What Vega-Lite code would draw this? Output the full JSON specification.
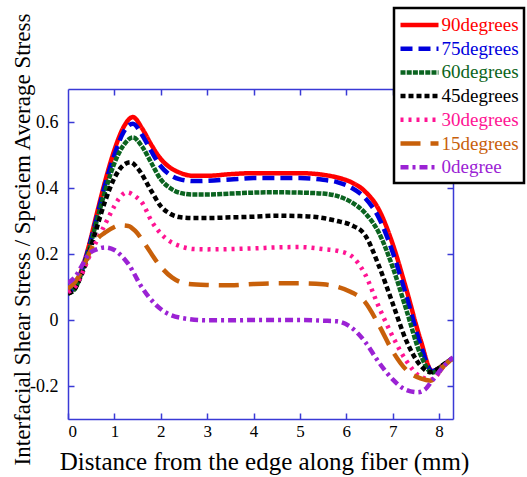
{
  "$schema": "https://vega.github.io/schema/vega-lite/v6.json",
  "width": 385,
  "height": 330,
  "autosize": {"type": "none"},
  "padding": {"left": 68, "top": 89, "right": 74, "bottom": 58},
  "background": "white",
  "config": {
    "view": {"stroke": null},
    "font": "Liberation Serif",
    "style": {"guide-label": {"font": "Liberation Serif"}, "guide-title": {"font": "Liberation Serif"}},
    "axis": {
      "domainColor": "#3a3ad6",
      "domainWidth": 1.5,
      "tickColor": "#3a3ad6",
      "tickWidth": 1.5,
      "tickSize": -6,
      "grid": false,
      "labelFont": "Liberation Serif",
      "labelColor": "black",
      "titleFont": "Liberation Serif",
      "titleColor": "black",
      "titleFontWeight": "normal"
    },
    "legend": {"labelFont": "Liberation Serif"}
  },
  "data": {
    "values": [
      {"s": "90degrees", "x": 0, "y": 0.085}, {"s": "90degrees", "x": 0.15, "y": 0.1}, {"s": "90degrees", "x": 0.3, "y": 0.155}, {"s": "90degrees", "x": 0.45, "y": 0.225}, {"s": "90degrees", "x": 0.6, "y": 0.31}, {"s": "90degrees", "x": 0.8, "y": 0.42}, {"s": "90degrees", "x": 1.0, "y": 0.515}, {"s": "90degrees", "x": 1.2, "y": 0.585}, {"s": "90degrees", "x": 1.4, "y": 0.615}, {"s": "90degrees", "x": 1.6, "y": 0.58}, {"s": "90degrees", "x": 1.8, "y": 0.53}, {"s": "90degrees", "x": 2.0, "y": 0.488}, {"s": "90degrees", "x": 2.2, "y": 0.462}, {"s": "90degrees", "x": 2.4, "y": 0.447}, {"s": "90degrees", "x": 2.7, "y": 0.437}, {"s": "90degrees", "x": 3.0, "y": 0.437}, {"s": "90degrees", "x": 3.5, "y": 0.442}, {"s": "90degrees", "x": 4.0, "y": 0.445}, {"s": "90degrees", "x": 4.5, "y": 0.445}, {"s": "90degrees", "x": 5.0, "y": 0.445}, {"s": "90degrees", "x": 5.5, "y": 0.44}, {"s": "90degrees", "x": 5.8, "y": 0.432}, {"s": "90degrees", "x": 6.1, "y": 0.418}, {"s": "90degrees", "x": 6.4, "y": 0.39}, {"s": "90degrees", "x": 6.7, "y": 0.335}, {"s": "90degrees", "x": 7.0, "y": 0.23}, {"s": "90degrees", "x": 7.3, "y": 0.09}, {"s": "90degrees", "x": 7.6, "y": -0.06}, {"s": "90degrees", "x": 7.85, "y": -0.155}, {"s": "90degrees", "x": 8.1, "y": -0.135}, {"s": "90degrees", "x": 8.3, "y": -0.115},

      {"s": "75degrees", "x": 0, "y": 0.085}, {"s": "75degrees", "x": 0.15, "y": 0.1}, {"s": "75degrees", "x": 0.3, "y": 0.15}, {"s": "75degrees", "x": 0.45, "y": 0.22}, {"s": "75degrees", "x": 0.6, "y": 0.3}, {"s": "75degrees", "x": 0.8, "y": 0.41}, {"s": "75degrees", "x": 1.0, "y": 0.5}, {"s": "75degrees", "x": 1.2, "y": 0.57}, {"s": "75degrees", "x": 1.4, "y": 0.595}, {"s": "75degrees", "x": 1.6, "y": 0.56}, {"s": "75degrees", "x": 1.8, "y": 0.51}, {"s": "75degrees", "x": 2.0, "y": 0.466}, {"s": "75degrees", "x": 2.2, "y": 0.44}, {"s": "75degrees", "x": 2.4, "y": 0.427}, {"s": "75degrees", "x": 2.7, "y": 0.421}, {"s": "75degrees", "x": 3.0, "y": 0.422}, {"s": "75degrees", "x": 3.5, "y": 0.426}, {"s": "75degrees", "x": 4.0, "y": 0.43}, {"s": "75degrees", "x": 4.5, "y": 0.43}, {"s": "75degrees", "x": 5.0, "y": 0.43}, {"s": "75degrees", "x": 5.5, "y": 0.425}, {"s": "75degrees", "x": 5.8, "y": 0.418}, {"s": "75degrees", "x": 6.1, "y": 0.402}, {"s": "75degrees", "x": 6.4, "y": 0.37}, {"s": "75degrees", "x": 6.7, "y": 0.31}, {"s": "75degrees", "x": 7.0, "y": 0.205}, {"s": "75degrees", "x": 7.3, "y": 0.07}, {"s": "75degrees", "x": 7.6, "y": -0.075}, {"s": "75degrees", "x": 7.85, "y": -0.155}, {"s": "75degrees", "x": 8.1, "y": -0.135}, {"s": "75degrees", "x": 8.3, "y": -0.115},

      {"s": "60degrees", "x": 0, "y": 0.08}, {"s": "60degrees", "x": 0.15, "y": 0.095}, {"s": "60degrees", "x": 0.3, "y": 0.145}, {"s": "60degrees", "x": 0.45, "y": 0.21}, {"s": "60degrees", "x": 0.6, "y": 0.29}, {"s": "60degrees", "x": 0.8, "y": 0.39}, {"s": "60degrees", "x": 1.0, "y": 0.475}, {"s": "60degrees", "x": 1.2, "y": 0.53}, {"s": "60degrees", "x": 1.4, "y": 0.553}, {"s": "60degrees", "x": 1.6, "y": 0.525}, {"s": "60degrees", "x": 1.8, "y": 0.475}, {"s": "60degrees", "x": 2.0, "y": 0.426}, {"s": "60degrees", "x": 2.2, "y": 0.4}, {"s": "60degrees", "x": 2.4, "y": 0.386}, {"s": "60degrees", "x": 2.7, "y": 0.38}, {"s": "60degrees", "x": 3.0, "y": 0.38}, {"s": "60degrees", "x": 3.5, "y": 0.383}, {"s": "60degrees", "x": 4.0, "y": 0.386}, {"s": "60degrees", "x": 4.5, "y": 0.387}, {"s": "60degrees", "x": 5.0, "y": 0.386}, {"s": "60degrees", "x": 5.5, "y": 0.383}, {"s": "60degrees", "x": 5.8, "y": 0.376}, {"s": "60degrees", "x": 6.1, "y": 0.358}, {"s": "60degrees", "x": 6.4, "y": 0.325}, {"s": "60degrees", "x": 6.7, "y": 0.265}, {"s": "60degrees", "x": 7.0, "y": 0.16}, {"s": "60degrees", "x": 7.3, "y": 0.028}, {"s": "60degrees", "x": 7.6, "y": -0.105}, {"s": "60degrees", "x": 7.85, "y": -0.16}, {"s": "60degrees", "x": 8.1, "y": -0.135}, {"s": "60degrees", "x": 8.3, "y": -0.115},

      {"s": "45degrees", "x": 0, "y": 0.08}, {"s": "45degrees", "x": 0.15, "y": 0.095}, {"s": "45degrees", "x": 0.3, "y": 0.14}, {"s": "45degrees", "x": 0.45, "y": 0.2}, {"s": "45degrees", "x": 0.6, "y": 0.27}, {"s": "45degrees", "x": 0.8, "y": 0.36}, {"s": "45degrees", "x": 1.0, "y": 0.43}, {"s": "45degrees", "x": 1.2, "y": 0.47}, {"s": "45degrees", "x": 1.35, "y": 0.478}, {"s": "45degrees", "x": 1.5, "y": 0.46}, {"s": "45degrees", "x": 1.8, "y": 0.39}, {"s": "45degrees", "x": 2.0, "y": 0.345}, {"s": "45degrees", "x": 2.2, "y": 0.322}, {"s": "45degrees", "x": 2.4, "y": 0.312}, {"s": "45degrees", "x": 2.7, "y": 0.309}, {"s": "45degrees", "x": 3.0, "y": 0.309}, {"s": "45degrees", "x": 3.5, "y": 0.311}, {"s": "45degrees", "x": 4.0, "y": 0.313}, {"s": "45degrees", "x": 4.5, "y": 0.316}, {"s": "45degrees", "x": 5.0, "y": 0.315}, {"s": "45degrees", "x": 5.5, "y": 0.309}, {"s": "45degrees", "x": 5.8, "y": 0.3}, {"s": "45degrees", "x": 6.1, "y": 0.288}, {"s": "45degrees", "x": 6.4, "y": 0.258}, {"s": "45degrees", "x": 6.7, "y": 0.165}, {"s": "45degrees", "x": 7.0, "y": 0.05}, {"s": "45degrees", "x": 7.3, "y": -0.065}, {"s": "45degrees", "x": 7.6, "y": -0.138}, {"s": "45degrees", "x": 7.8, "y": -0.158}, {"s": "45degrees", "x": 8.1, "y": -0.135}, {"s": "45degrees", "x": 8.3, "y": -0.115},

      {"s": "30degrees", "x": 0, "y": 0.085}, {"s": "30degrees", "x": 0.15, "y": 0.1}, {"s": "30degrees", "x": 0.3, "y": 0.14}, {"s": "30degrees", "x": 0.45, "y": 0.19}, {"s": "30degrees", "x": 0.6, "y": 0.235}, {"s": "30degrees", "x": 0.8, "y": 0.29}, {"s": "30degrees", "x": 1.0, "y": 0.345}, {"s": "30degrees", "x": 1.1, "y": 0.368}, {"s": "30degrees", "x": 1.27, "y": 0.387}, {"s": "30degrees", "x": 1.45, "y": 0.375}, {"s": "30degrees", "x": 1.6, "y": 0.355}, {"s": "30degrees", "x": 1.8, "y": 0.3}, {"s": "30degrees", "x": 2.0, "y": 0.262}, {"s": "30degrees", "x": 2.2, "y": 0.238}, {"s": "30degrees", "x": 2.4, "y": 0.225}, {"s": "30degrees", "x": 2.7, "y": 0.215}, {"s": "30degrees", "x": 3.0, "y": 0.214}, {"s": "30degrees", "x": 3.5, "y": 0.215}, {"s": "30degrees", "x": 4.0, "y": 0.217}, {"s": "30degrees", "x": 4.5, "y": 0.22}, {"s": "30degrees", "x": 5.0, "y": 0.221}, {"s": "30degrees", "x": 5.5, "y": 0.215}, {"s": "30degrees", "x": 5.8, "y": 0.21}, {"s": "30degrees", "x": 6.1, "y": 0.195}, {"s": "30degrees", "x": 6.4, "y": 0.14}, {"s": "30degrees", "x": 6.7, "y": 0.04}, {"s": "30degrees", "x": 7.0, "y": -0.05}, {"s": "30degrees", "x": 7.3, "y": -0.125}, {"s": "30degrees", "x": 7.6, "y": -0.172}, {"s": "30degrees", "x": 7.85, "y": -0.18}, {"s": "30degrees", "x": 8.1, "y": -0.14}, {"s": "30degrees", "x": 8.3, "y": -0.115},

      {"s": "15degrees", "x": 0, "y": 0.095}, {"s": "15degrees", "x": 0.15, "y": 0.115}, {"s": "15degrees", "x": 0.3, "y": 0.15}, {"s": "15degrees", "x": 0.45, "y": 0.2}, {"s": "15degrees", "x": 0.6, "y": 0.24}, {"s": "15degrees", "x": 0.8, "y": 0.265}, {"s": "15degrees", "x": 1.0, "y": 0.282}, {"s": "15degrees", "x": 1.1, "y": 0.287}, {"s": "15degrees", "x": 1.3, "y": 0.285}, {"s": "15degrees", "x": 1.45, "y": 0.27}, {"s": "15degrees", "x": 1.66, "y": 0.23}, {"s": "15degrees", "x": 1.95, "y": 0.17}, {"s": "15degrees", "x": 2.24, "y": 0.129}, {"s": "15degrees", "x": 2.6, "y": 0.109}, {"s": "15degrees", "x": 3.0, "y": 0.106}, {"s": "15degrees", "x": 3.5, "y": 0.105}, {"s": "15degrees", "x": 4.0, "y": 0.109}, {"s": "15degrees", "x": 4.5, "y": 0.111}, {"s": "15degrees", "x": 5.0, "y": 0.111}, {"s": "15degrees", "x": 5.5, "y": 0.108}, {"s": "15degrees", "x": 5.8, "y": 0.101}, {"s": "15degrees", "x": 6.1, "y": 0.085}, {"s": "15degrees", "x": 6.4, "y": 0.055}, {"s": "15degrees", "x": 6.7, "y": -0.015}, {"s": "15degrees", "x": 7.0, "y": -0.095}, {"s": "15degrees", "x": 7.3, "y": -0.152}, {"s": "15degrees", "x": 7.6, "y": -0.177}, {"s": "15degrees", "x": 7.82, "y": -0.184}, {"s": "15degrees", "x": 8.1, "y": -0.14}, {"s": "15degrees", "x": 8.3, "y": -0.115},

      {"s": "0degree", "x": 0, "y": 0.112}, {"s": "0degree", "x": 0.15, "y": 0.13}, {"s": "0degree", "x": 0.3, "y": 0.165}, {"s": "0degree", "x": 0.45, "y": 0.2}, {"s": "0degree", "x": 0.6, "y": 0.213}, {"s": "0degree", "x": 0.8, "y": 0.22}, {"s": "0degree", "x": 1.0, "y": 0.212}, {"s": "0degree", "x": 1.15, "y": 0.195}, {"s": "0degree", "x": 1.3, "y": 0.17}, {"s": "0degree", "x": 1.6, "y": 0.097}, {"s": "0degree", "x": 1.88, "y": 0.048}, {"s": "0degree", "x": 2.17, "y": 0.018}, {"s": "0degree", "x": 2.6, "y": 0.003}, {"s": "0degree", "x": 3.0, "y": -0.001}, {"s": "0degree", "x": 3.5, "y": -0.001}, {"s": "0degree", "x": 4.0, "y": 0.0}, {"s": "0degree", "x": 4.5, "y": 0.0}, {"s": "0degree", "x": 5.0, "y": 0.0}, {"s": "0degree", "x": 5.5, "y": -0.002}, {"s": "0degree", "x": 5.8, "y": -0.004}, {"s": "0degree", "x": 6.1, "y": -0.022}, {"s": "0degree", "x": 6.4, "y": -0.065}, {"s": "0degree", "x": 6.7, "y": -0.128}, {"s": "0degree", "x": 7.0, "y": -0.18}, {"s": "0degree", "x": 7.25, "y": -0.209}, {"s": "0degree", "x": 7.54, "y": -0.219}, {"s": "0degree", "x": 7.7, "y": -0.21}, {"s": "0degree", "x": 7.85, "y": -0.184}, {"s": "0degree", "x": 8.1, "y": -0.14}, {"s": "0degree", "x": 8.3, "y": -0.113}
    ]
  },
  "layer": [
    {
      "mark": {"type": "line", "interpolate": "monotone", "clip": true},
      "encoding": {
        "x": {
          "field": "x", "type": "quantitative",
          "scale": {"domain": [0, 8.3], "nice": false, "zero": false},
          "axis": {
            "orient": "bottom", "values": [0, 1, 2, 3, 4, 5, 6, 7, 8],
            "labelFont": "Liberation Serif", "labelFontSize": 17, "labelPadding": 10,
            "title": "Distance from the edge along fiber (mm)",
            "titleFont": "Liberation Serif",
            "titleFontSize": 25, "titleX": 196, "titleY": 50, "titleBaseline": "alphabetic"
          }
        },
        "y": {
          "field": "y", "type": "quantitative",
          "scale": {"domain": [-0.3, 0.7], "nice": false, "zero": false},
          "axis": {
            "orient": "left", "values": [-0.2, 0, 0.2, 0.4, 0.6],
            "labelExpr": "datum.value == 0 ? '0' : (datum.value < 0 ? '-' + format(-datum.value, '.1f') : format(datum.value, '.1f'))",
            "labelFont": "Liberation Serif", "labelFontSize": 18, "labelPadding": 16,
            "title": "Interfacial Shear Stress / Speciem Average Stress",
            "titleFont": "Liberation Serif",
            "titleFontSize": 23, "titleAngle": -90, "titleX": -39, "titleY": 150,
            "titleAlign": "center", "titleBaseline": "alphabetic"
          }
        },
        "color": {
          "field": "s", "type": "nominal",
          "scale": {
            "domain": ["90degrees", "75degrees", "60degrees", "45degrees", "30degrees", "15degrees", "0degree"],
            "range": ["#ff0000", "#0000dd", "#0b6420", "#000000", "#ff1493", "#c8600a", "#9b22d4"]
          },
          "legend": {
            "orient": "none", "legendX": 326, "legendY": -81,
            "title": null, "symbolType": "M-2,0H2", "symbolSize": 361, "symbolOffset": 8.5,
            "labelFont": "Liberation Serif", "labelFontSize": 19, "labelOffset": 10, "labelLimit": 0,
            "padding": 5, "rowPadding": 1.7,
            "strokeColor": "black", "fillColor": "white",
            "encode": {
              "labels": {"update": {"fill": {"scale": "color", "field": "value"}, "font": {"value": "Liberation Serif"}}},
              "legend": {"update": {"strokeWidth": {"value": 2.5}}}
            }
          }
        },
        "strokeDash": {
          "field": "s", "type": "nominal",
          "scale": {
            "domain": ["90degrees", "75degrees", "60degrees", "45degrees", "30degrees", "15degrees", "0degree"],
            "range": [[1, 0], [12, 6], [5, 1.2], [5, 3], [3, 5], [20, 10], [8, 4, 3, 4]]
          }
        },
        "strokeWidth": {
          "field": "s", "type": "nominal",
          "scale": {
            "domain": ["90degrees", "75degrees", "60degrees", "45degrees", "30degrees", "15degrees", "0degree"],
            "range": [4.5, 4.5, 4.5, 3, 3, 3, 3]
          }
        }
      }
    },
    {
      "mark": {"type": "point", "opacity": 0},
      "encoding": {
        "x": {
          "field": "x", "type": "quantitative",
          "axis": {"orient": "top", "values": [1, 2, 3, 4, 5, 6, 7, 8], "labels": false, "title": null}
        },
        "y": {
          "field": "y", "type": "quantitative",
          "axis": {"orient": "right", "values": [-0.2, 0, 0.2, 0.4, 0.6], "labels": false, "title": null}
        }
      }
    }
  ],
  "resolve": {"axis": {"x": "independent", "y": "independent"}}
}
